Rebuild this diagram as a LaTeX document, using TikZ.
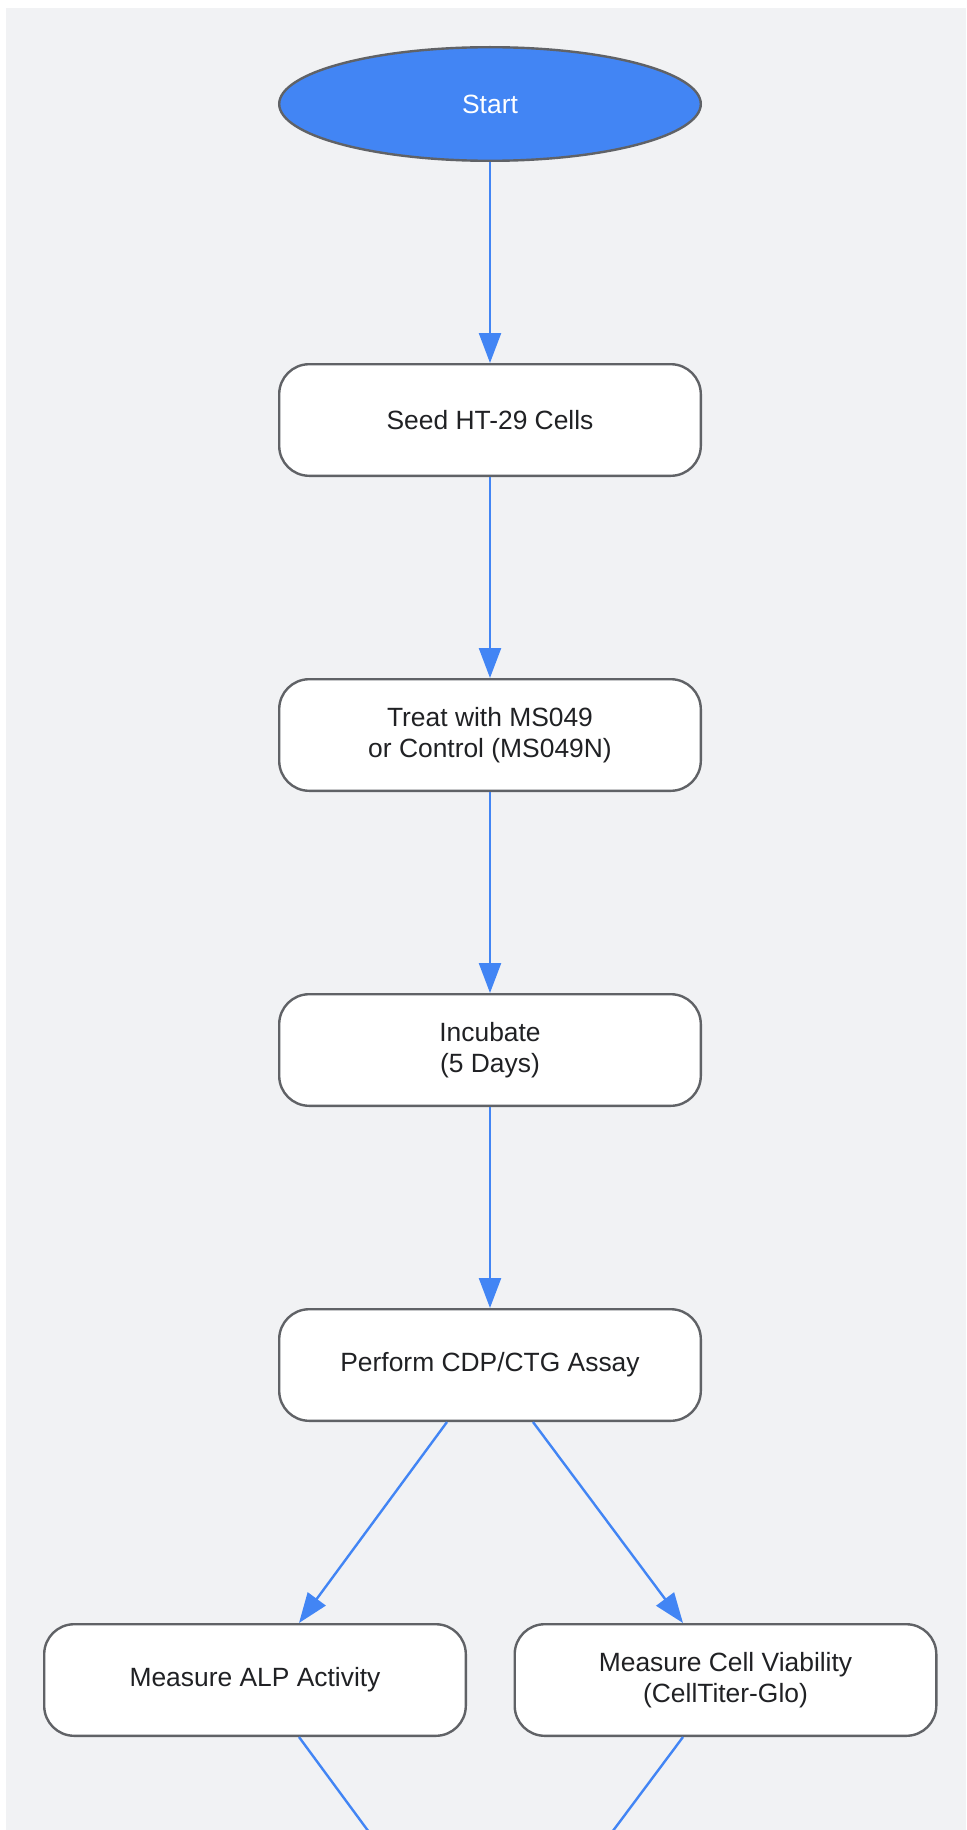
\documentclass[tikz,border=0pt]{standalone}
\usepackage{fontspec}
\setmainfont{Liberation Sans}
\usetikzlibrary{arrows.meta,positioning,shapes}

\definecolor{bggray}{HTML}{F1F2F4}
\definecolor{flowblue}{HTML}{4285F4}
\definecolor{bordergray}{HTML}{606266}
\definecolor{textdark}{HTML}{202124}

\begin{document}
\begin{tikzpicture} [auto,node distance=201pt,line width=2.4pt,
    every node/.style={font=\fontsize{26.4}{31}\selectfont,text=textdark,draw=bordergray,align=center},
    stepbox/.style={rectangle,rounded corners=30pt,fill=white,minimum width=421.6pt,minimum height=111.6pt},
    startbox/.style={ellipse,fill=flowblue,text=white,minimum width=421.6pt,minimum height=113.6pt}]

  \useasboundingbox (0,0) rectangle (966pt,-1830pt);
  \clip (0,0) rectangle (966pt,-1830pt);
  \fill[bggray] (6pt,-8pt) rectangle (966pt,-1830pt);

  \node[startbox] (start) at (490pt,-104pt) {Start};
  \node[stepbox] (seed) [below=of start] {Seed HT-29 Cells};
  \node[stepbox] (treat) [below=of seed] {Treat with MS049\\or Control (MS049N)};
  \node[stepbox] (incub) [below=of treat] {Incubate\\(5 Days)};
  \node[stepbox] (assay) [below=of incub] {Perform CDP/CTG Assay};
  \node[stepbox] (alp) [below=of assay,xshift=-235pt] {Measure ALP Activity};
  \node[stepbox] (viab) [below=of assay,xshift=235.5pt] {Measure Cell Viability\\(CellTiter-Glo)};
  % next step lies below the visible part
  \path (alp.south -| assay.south) ++(0,-201pt) coordinate (next);

  \path[->,>={Triangle[length=30pt,width=22pt]},color=flowblue]
    (start) edge (seed)
    (seed) edge (treat)
    (treat) edge (incub)
    (incub) edge (assay)
    ([xshift=-43pt]assay.south) edge ([xshift=44pt]alp.north)
    ([xshift=43pt]assay.south) edge ([xshift=-42.5pt]viab.north)
    ([xshift=44pt]alp.south) edge ([xshift=-43pt]next)
    ([xshift=-42.5pt]viab.south) edge ([xshift=43pt]next);

\end{tikzpicture}
\end{document}
